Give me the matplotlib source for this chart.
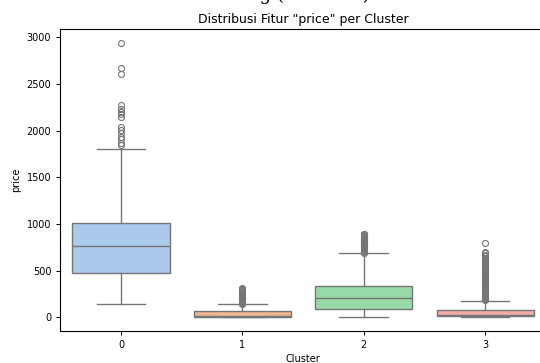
import matplotlib
matplotlib.use('Agg')
import matplotlib.pyplot as plt
import seaborn as sns

clusters = [0, 1, 2, 3]

# five-number summaries
q1 = [477, 8, 93, 15]
med = [767, 16, 204, 28]
q3 = [1010, 62, 330, 80]
whislo = [144, 0, 0, 0]
whishi = [1801, 138, 684, 178]

fliers = [
    [1848, 1869, 1909, 1934, 1970, 2005, 2041, 2145, 2174, 2199, 2228, 2274,
     2604, 2668, 2943],
    [142, 150, 158, 166, 175, 184, 193, 202, 211, 220, 230, 240, 250, 260,
     270, 280, 290, 300, 308, 315],
    [690, 698, 706, 714, 722, 730, 738, 746, 754, 762, 770, 778, 786, 794,
     802, 810, 818, 826, 834, 842, 850, 858, 866, 874, 882, 890, 896],
    [184, 192, 200, 210, 220, 230, 240, 250, 260, 270, 280, 290, 300, 310,
     320, 330, 340, 350, 360, 370, 380, 390, 400, 410, 420, 430, 440, 450,
     460, 470, 480, 490, 500, 510, 520, 530, 540, 550, 560, 570, 580, 590,
     600, 610, 620, 630, 640, 652, 668, 690, 704, 795],
]

colors = sns.color_palette('pastel', 4, desat=0.75)
gray = '#767676'

stats = []
for i in range(len(clusters)):
    stats.append(dict(med=med[i], q1=q1[i], q3=q3[i], whislo=whislo[i],
                      whishi=whishi[i], fliers=fliers[i], label=str(clusters[i])))

fig = plt.figure(figsize=(5.4, 3.63), dpi=100)
ax = fig.add_axes([0.1117, 0.0882, 0.899, 0.832])

bp = ax.bxp(stats, positions=clusters, widths=0.8, patch_artist=True,
            boxprops=dict(edgecolor=gray, linewidth=1.0),
            medianprops=dict(color=gray, linewidth=1.0),
            whiskerprops=dict(color=gray, linewidth=1.0),
            capprops=dict(color=gray, linewidth=1.0),
            capwidths=0.4,
            flierprops=dict(marker='o', markerfacecolor='none',
                            markeredgecolor=gray, markersize=4.3,
                            markeredgewidth=0.8))
for patch, c in zip(bp['boxes'], colors):
    patch.set_facecolor(c)

ax.set_xlim(-0.5, 3.5)
ax.set_xticks(clusters)
ax.set_xticklabels([str(c) for c in clusters])
ax.set_yticks([0, 500, 1000, 1500, 2000, 2500, 3000])
ax.tick_params(labelsize=7, width=0.7, length=3)
for s in ax.spines.values():
    s.set_linewidth(0.8)

ax.set_title('Distribusi Fitur "price" per Cluster', fontsize=9, pad=4)
ax.set_xlabel('Cluster', fontsize=7, labelpad=3)
ax.set_ylabel('price', fontsize=7, labelpad=4)

# page heading above the chart, only its lowest strokes reach into the image
fig.text(370 / 540, 1.0, 'Hasil Clustering (K-Means)', fontsize=13,
         family='DejaVu Serif', ha='right', va='baseline')

fig.savefig('out.png', dpi=100)
